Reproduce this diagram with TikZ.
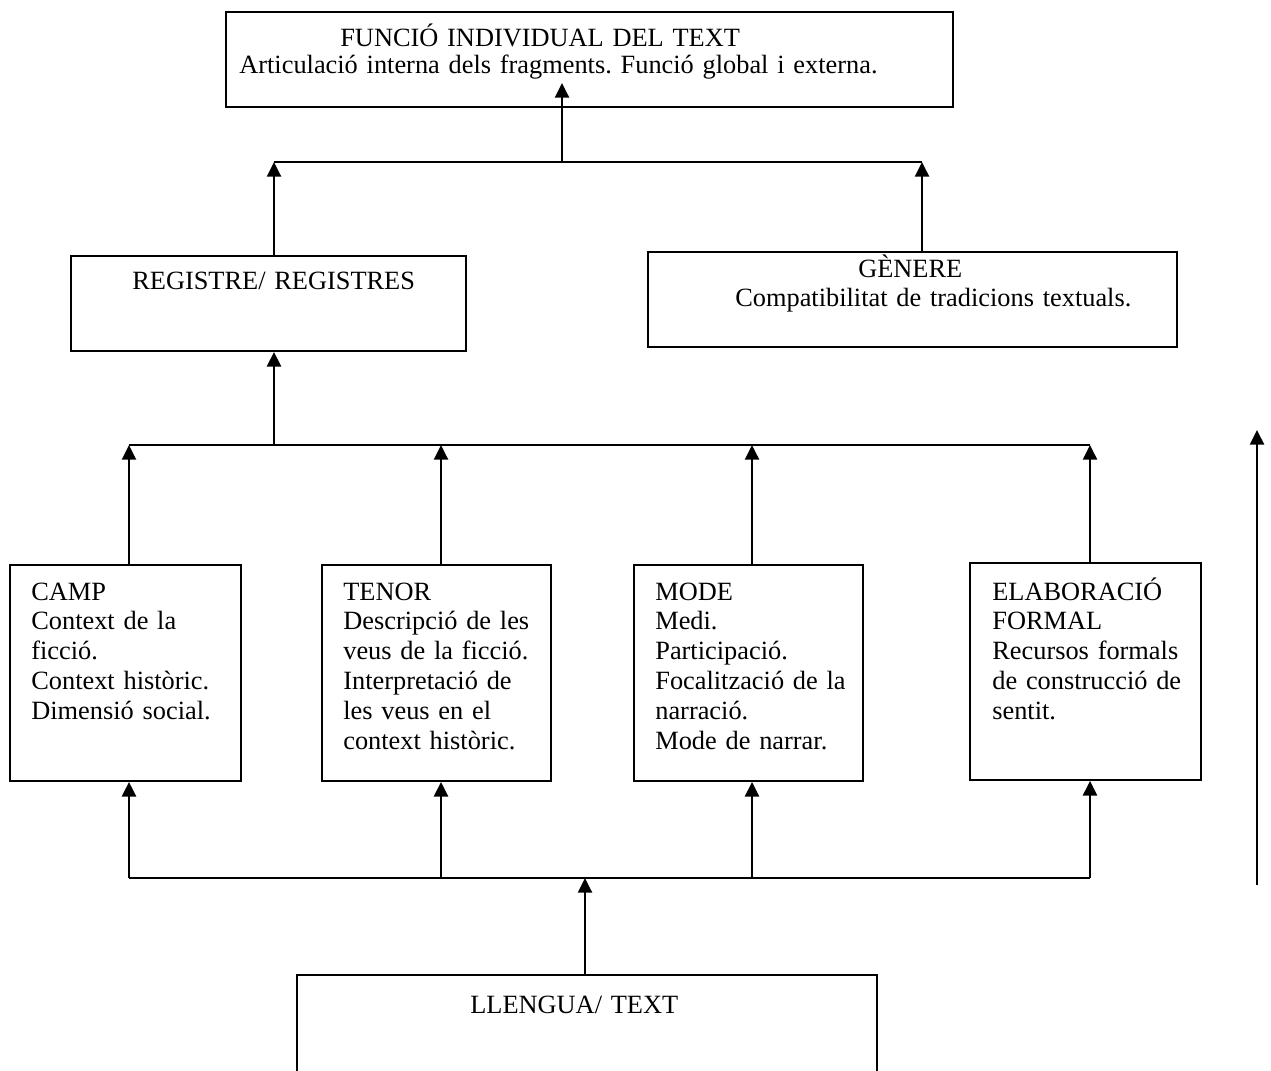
\documentclass[tikz,border=0pt]{standalone}
\usepackage{fontspec}
\setmainfont{Liberation Serif}
\usetikzlibrary{arrows.meta}
\frenchspacing

\begin{document}
\begin{tikzpicture}[x=0.02cm, y=-0.02cm,
  box/.style={draw, line width=1.1pt, inner sep=0pt},
  txt/.style={anchor=base west, inner sep=0pt, align=left, text width=#1, font=\fontsize{15}{17}\selectfont},
  txt/.default=4.4cm,
  arr/.style={-{Triangle[length=8.3pt, width=8pt]}, line width=1.1pt},
  bar/.style={line width=1.1pt}
]
\useasboundingbox (0,0) rectangle (1271,1071);
\clip (0,0) rectangle (1271,1071);

% top level
\node[box, minimum width=14.54cm, minimum height=1.9cm] (func) at (589.5,59.5) {};
\node[txt=14cm, font=\fontsize{15}{15.3}\selectfont] (functxt) at (239,47) {\hspace*{2.02cm}FUNCIÓ INDIVIDUAL DEL TEXT\\Articulació interna dels fragments. Funció global i externa.};

% registre / genere
\node[box, minimum width=7.9cm, minimum height=1.9cm] (reg) at (268.5,303.5) {};
\node[txt=7cm] (regtxt) at (132,290) {REGISTRE/ REGISTRES};
\node[box, minimum width=10.58cm, minimum height=1.9cm] (gen) at (912.5,299.5) {};
\node[txt=8.5cm] (gentxt) at (735,277) {\hspace*{2.46cm}GÈNERE\\Compatibilitat de tradicions textuals.};

% the four components
\node[box, minimum width=4.62cm, minimum height=4.32cm] (camp) at (125.5,673) {};
\node[txt] (camptxt) at (31,600) {CAMP\\Context de la\\ficció.\\Context històric.\\Dimensió social.};
\node[box, minimum width=4.58cm, minimum height=4.32cm] (tenor) at (436.5,673) {};
\node[txt] (tenortxt) at (343,600) {TENOR\\Descripció de les\\veus de la ficció.\\Interpretació de\\les veus en el\\context històric.};
\node[box, minimum width=4.58cm, minimum height=4.32cm] (mode) at (748.5,673) {};
\node[txt] (modetxt) at (655,600) {MODE\\Medi.\\Participació.\\Focalització de la\\narració.\\Mode de narrar.};
\node[box, minimum width=4.62cm, minimum height=4.34cm] (elab) at (1085.5,671.5) {};
\node[txt] (elabtxt) at (992,600) {ELABORACIÓ\\FORMAL\\Recursos formals\\de construcció de\\sentit.};

% base
\node[box, minimum width=11.6cm, minimum height=2.5cm] (llen) at (587,1037.5) {};
\node[txt=8cm] (llentxt) at (470,1013) {LLENGUA/ TEXT};

% upper connectors
\coordinate (tl) at (274,162);
\coordinate (tr) at (922,162);
\coordinate (tm) at (562,162);
\coordinate (tt) at (562,83);
\draw[bar] (tl) -- (tr);
\draw[arr] (reg.north -| tl) -- (tl);
\draw[arr] (gen.north -| tr) -- (tr);
\draw[arr] (tm) -- (tt);

% middle and lower connectors
\coordinate (mreg) at (274,445);
\draw[arr] (mreg) -- (mreg |- reg.south);
\foreach \b/\x in {camp/129, tenor/441, mode/752, elab/1090} {
  \coordinate (u\b) at (\x,445);
  \coordinate (d\b) at (\x,878);
  \draw[arr] (\b.north -| u\b) -- (u\b);
  \draw[arr] (d\b) -- (\b.south -| d\b);
}
\draw[bar] (ucamp) -- (uelab);
\draw[bar] (dcamp) -- (delab);
\coordinate (dm) at (585,878);
\draw[arr] (llen.north -| dm) -- (dm);

% long arrow on the right
\coordinate (ra) at (1257,885);
\coordinate (rb) at (1257,430);
\draw[arr] (ra) -- (rb);

\end{tikzpicture}
\end{document}
